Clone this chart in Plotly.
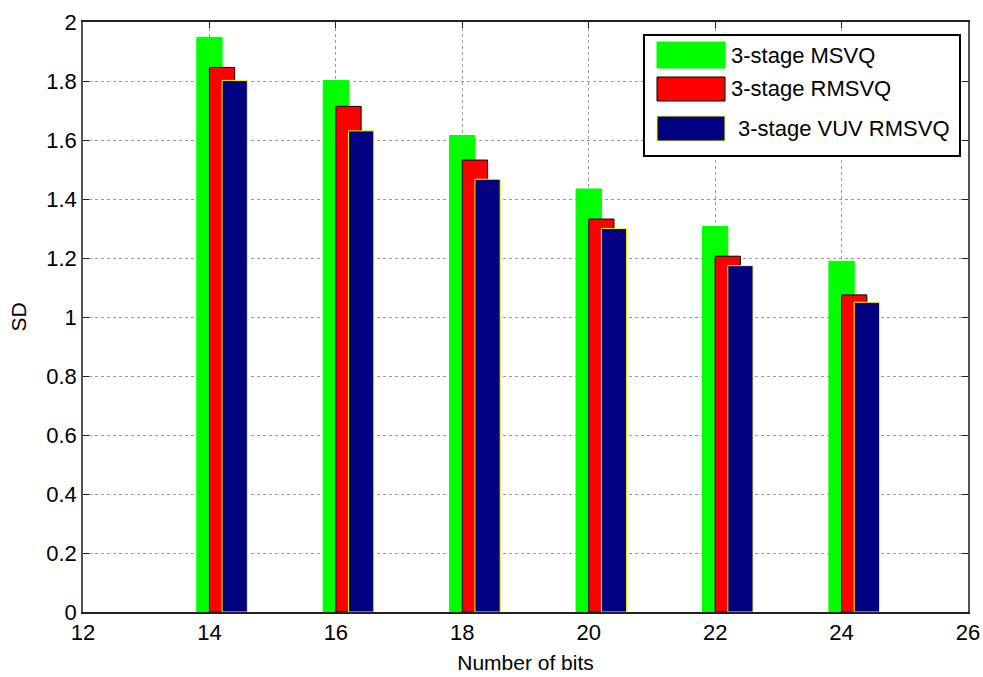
import plotly.graph_objects as go

bits = [14, 16, 18, 20, 22, 24]
series_names = ["3-stage MSVQ", "3-stage RMSVQ", "3-stage VUV RMSVQ"]
msvq = [1.948, 1.802, 1.615, 1.434, 1.307, 1.189]
rmsvq = [1.846, 1.714, 1.532, 1.332, 1.206, 1.075]
vuv_rmsvq = [1.802, 1.631, 1.467, 1.300, 1.174, 1.050]
x_ticks = [12, 14, 16, 18, 20, 22, 24, 26]
y_ticks = [0, 0.2, 0.4, 0.6, 0.8, 1, 1.2, 1.4, 1.6, 1.8, 2]

colors = ["#00ff00", "#ff0000", "#000080"]
edges = ["#00ff00", "#000000", "#ffff00"]
offsets = [-0.2, 0.0, 0.2]
values = [msvq, rmsvq, vuv_rmsvq]

fig = go.Figure()
for name, vals, c, e, off in zip(series_names, values, colors, edges, offsets):
    fig.add_trace(go.Bar(
        x=bits, y=vals, name=name, offset=off, width=0.4,
        marker=dict(color=c, line=dict(color=e, width=1)),
        showlegend=False,
    ))

FONT = "Liberation Sans, Arial, sans-serif"
fig.update_layout(
    width=983, height=677,
    margin=dict(l=83, r=15, t=22, b=65),
    paper_bgcolor="white", plot_bgcolor="white",
    barmode="overlay",
    font=dict(family=FONT, size=22, color="black"),
    xaxis=dict(
        range=[12, 26], tickvals=x_ticks, ticktext=[str(v) for v in x_ticks],
        showgrid=True, gridcolor="#9a9a9a", griddash="dot", gridwidth=1,
        showline=True, linecolor="#222", linewidth=1.5, mirror="ticks",
        ticks="inside", ticklen=6, tickcolor="#222",
        title=dict(text="Number of bits", standoff=11, font=dict(size=21)),
        zeroline=False, automargin=False,
    ),
    yaxis=dict(
        range=[0, 2], tickvals=y_ticks,
        showgrid=True, gridcolor="#9a9a9a", griddash="dot", gridwidth=1,
        showline=True, linecolor="#555", linewidth=1.5, mirror="ticks",
        ticks="inside", ticklen=6, tickcolor="#222",
        title=dict(text="SD", standoff=14, font=dict(size=21)),
        zeroline=False, automargin=False,
    ),
)

# custom legend in paper coordinates
def px2x(px):
    return (px - 83) / 885

def px2y(py):
    return (612 - py) / 590

shapes = [dict(type="rect", xref="paper", yref="paper",
               x0=px2x(644), x1=px2x(960), y0=px2y(156), y1=px2y(35),
               line=dict(color="black", width=2), fillcolor="white", layer="above")]
sw_y = [(42, 68), (77, 101), (116, 141)]
txt_x = [729, 729, 736]
txt_y = [55, 89, 128]
for (y0, y1), c, e, tx, ty, name in zip(sw_y, colors, edges, txt_x, txt_y, series_names):
    shapes.append(dict(type="rect", xref="paper", yref="paper",
                       x0=px2x(657), x1=px2x(725), y0=px2y(y1), y1=px2y(y0),
                       line=dict(color=e, width=1), fillcolor=c, layer="above"))
    fig.add_annotation(xref="paper", yref="paper", x=px2x(tx), y=px2y(ty),
                       text=name, showarrow=False, xanchor="left", yanchor="middle",
                       font=dict(size=22, family=FONT, color="black"))
fig.update_layout(shapes=shapes)

fig.write_html("out.html", config={"displayModeBar": False},
               post_script="document.body.style.margin='0';document.body.style.overflow='hidden';")
